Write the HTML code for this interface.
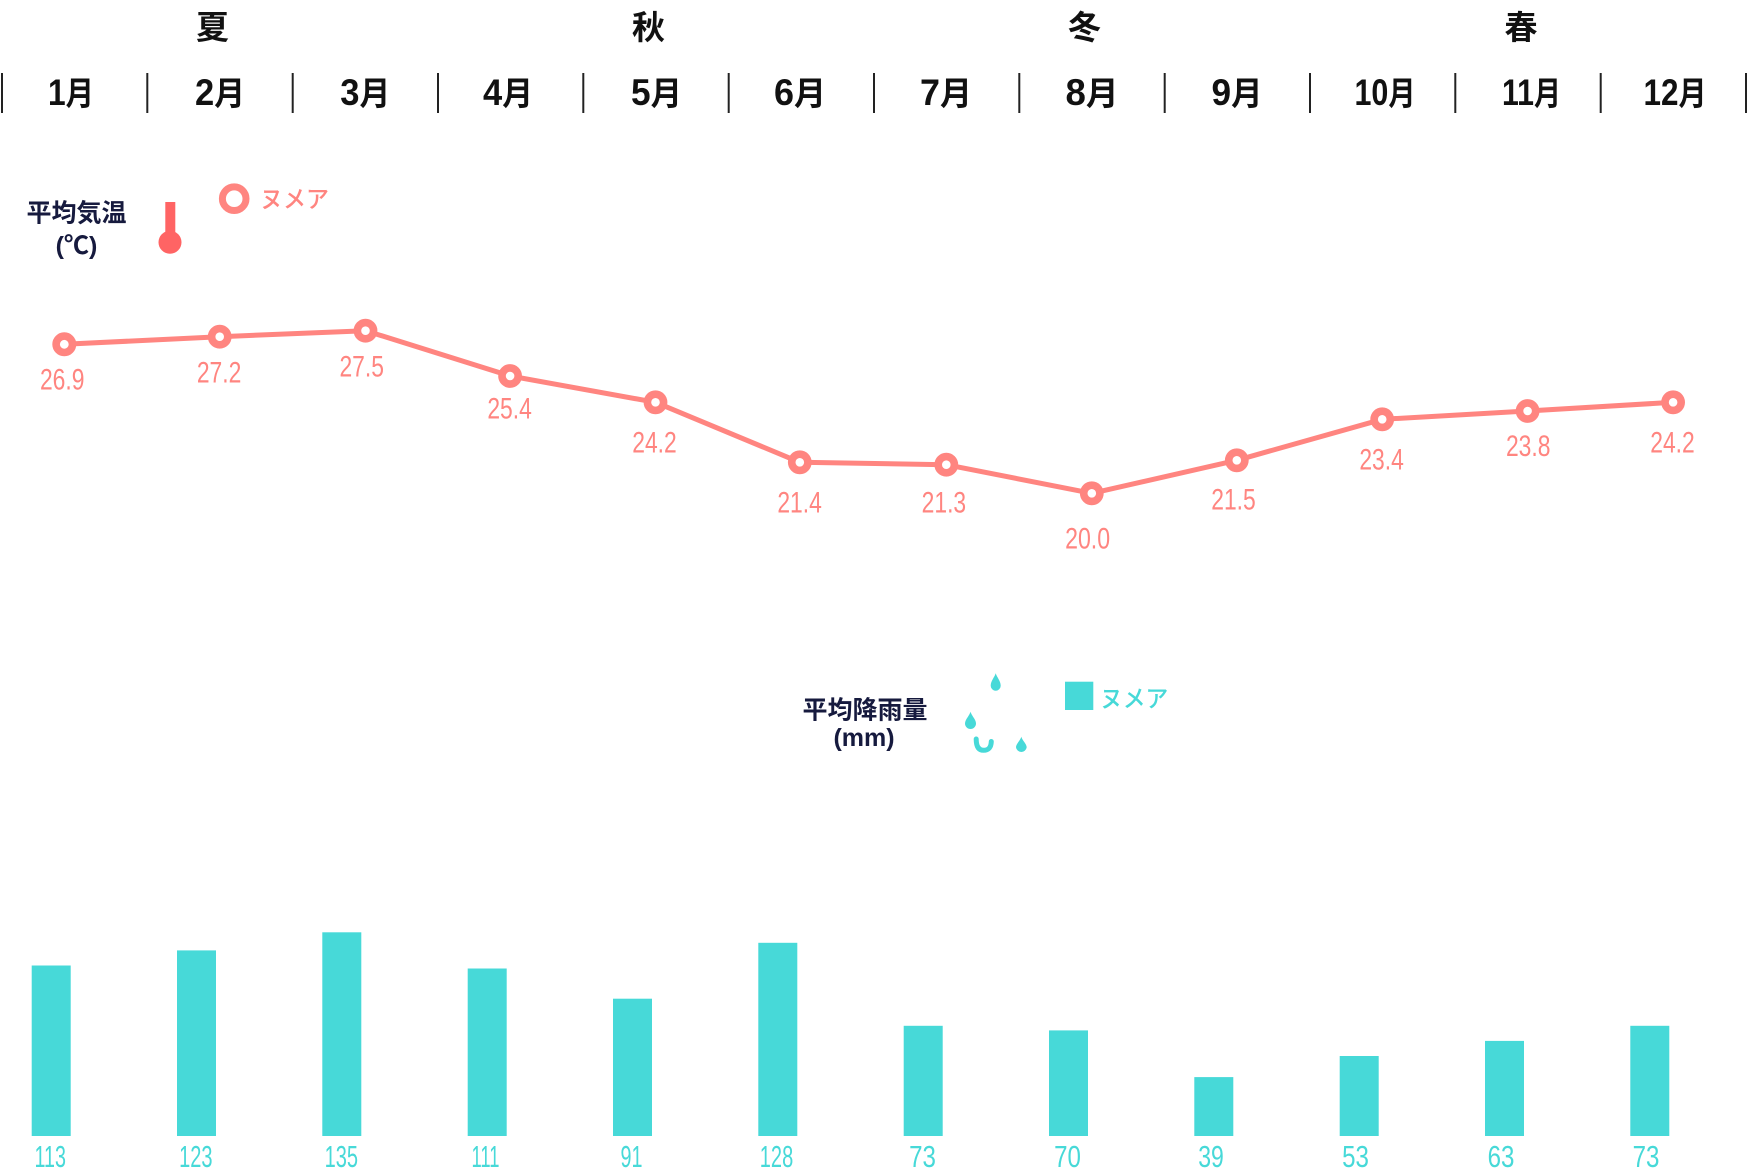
<!DOCTYPE html>
<html><head><meta charset="utf-8">
<style>
html,body{margin:0;padding:0;background:#fff;}
svg{display:block;}
.mon{font-family:"Liberation Sans","Noto Sans CJK JP",sans-serif;font-weight:bold;fill:#111;}
.sea{font-family:"Noto Sans CJK JP","Liberation Sans",sans-serif;font-weight:bold;fill:#111;font-size:33px;}
.lg{font-family:"Liberation Sans","Noto Sans CJK JP",sans-serif;font-weight:bold;fill:#161a3e;font-size:25px;}
.tv{font-family:"Liberation Sans",sans-serif;fill:#ff8580;font-size:29.5px;}
.rv{font-family:"Liberation Sans",sans-serif;fill:#47d9d8;font-size:30.5px;}
.kt{font-family:"Noto Sans CJK JP",sans-serif;font-weight:500;font-size:24px;}
</style></head>
<body>
<svg width="1748" height="1170" viewBox="0 0 1748 1170" xmlns="http://www.w3.org/2000/svg">
<rect width="1748" height="1170" fill="#fff"/>
<!-- seasons -->
<text class="sea" x="212.5" y="39" text-anchor="middle">夏</text>
<text class="sea" x="648.5" y="39" text-anchor="middle">秋</text>
<text class="sea" x="1084.5" y="39" text-anchor="middle">冬</text>
<text class="sea" x="1521" y="39" text-anchor="middle">春</text>
<!-- ticks -->
<g stroke="#222" stroke-width="2">
<line x1="2" y1="73" x2="2" y2="113"/>
<line x1="147.3" y1="73" x2="147.3" y2="113"/>
<line x1="292.7" y1="73" x2="292.7" y2="113"/>
<line x1="438" y1="73" x2="438" y2="113"/>
<line x1="583.3" y1="73" x2="583.3" y2="113"/>
<line x1="728.7" y1="73" x2="728.7" y2="113"/>
<line x1="874" y1="73" x2="874" y2="113"/>
<line x1="1019.3" y1="73" x2="1019.3" y2="113"/>
<line x1="1164.7" y1="73" x2="1164.7" y2="113"/>
<line x1="1310" y1="73" x2="1310" y2="113"/>
<line x1="1455.3" y1="73" x2="1455.3" y2="113"/>
<line x1="1600.7" y1="73" x2="1600.7" y2="113"/>
<line x1="1746" y1="73" x2="1746" y2="113"/>
</g>
<!-- months -->
<g class="mon" font-size="33">
<text x="71" y="105" text-anchor="middle" textLength="46" lengthAdjust="spacingAndGlyphs"><tspan font-size="37">1</tspan>月</text>
<text x="220" y="105" text-anchor="middle" textLength="50" lengthAdjust="spacingAndGlyphs"><tspan font-size="37">2</tspan>月</text>
<text x="365.3" y="105" text-anchor="middle" textLength="50" lengthAdjust="spacingAndGlyphs"><tspan font-size="37">3</tspan>月</text>
<text x="508" y="105" text-anchor="middle" textLength="50" lengthAdjust="spacingAndGlyphs"><tspan font-size="37">4</tspan>月</text>
<text x="656.5" y="105" text-anchor="middle" textLength="51" lengthAdjust="spacingAndGlyphs"><tspan font-size="37">5</tspan>月</text>
<text x="800" y="105" text-anchor="middle" textLength="52" lengthAdjust="spacingAndGlyphs"><tspan font-size="37">6</tspan>月</text>
<text x="946" y="105" text-anchor="middle" textLength="52" lengthAdjust="spacingAndGlyphs"><tspan font-size="37">7</tspan>月</text>
<text x="1092" y="105" text-anchor="middle" textLength="53" lengthAdjust="spacingAndGlyphs"><tspan font-size="37">8</tspan>月</text>
<text x="1237" y="105" text-anchor="middle" textLength="51" lengthAdjust="spacingAndGlyphs"><tspan font-size="37">9</tspan>月</text>
<text x="1385" y="105" text-anchor="middle" textLength="61" lengthAdjust="spacingAndGlyphs"><tspan font-size="37">10</tspan>月</text>
<text x="1531.5" y="105" text-anchor="middle" textLength="59" lengthAdjust="spacingAndGlyphs"><tspan font-size="37">11</tspan>月</text>
<text x="1675" y="105" text-anchor="middle" textLength="63" lengthAdjust="spacingAndGlyphs"><tspan font-size="37">12</tspan>月</text>
</g>
<!-- temperature legend -->
<text class="lg" x="76.5" y="221.5" text-anchor="middle">平均気温</text>
<text class="lg" x="76.5" y="254" text-anchor="middle">(℃)</text>
<rect x="165.3" y="202" width="10" height="36" fill="#ff6464"/>
<circle cx="170" cy="242.3" r="11.5" fill="#ff6464"/>
<circle cx="234.2" cy="198.7" r="11.8" fill="#fff" stroke="#ff8580" stroke-width="7"/>
<text class="kt" x="260" y="207.5" fill="#ff8580" textLength="69" lengthAdjust="spacingAndGlyphs">ヌメア</text>
<!-- temperature line -->
<polyline fill="none" stroke="#ff8580" stroke-width="5" stroke-linejoin="round"
 points="64.3,344.3 219.7,336.7 365.5,330.7 510.1,376 655.5,402.3 799.8,462.3 946.3,464.7 1091.8,493.3 1236.8,460.3 1382.2,419.3 1527.6,411 1673.1,402.3"/>
<g fill="#fff" stroke="#ff8580" stroke-width="7.6">
<circle cx="64.3" cy="344.3" r="8.2"/>
<circle cx="219.7" cy="336.7" r="8.1"/>
<circle cx="365.5" cy="330.7" r="8.1"/>
<circle cx="510.1" cy="376" r="8.1"/>
<circle cx="655.5" cy="402.3" r="8.1"/>
<circle cx="799.8" cy="462.3" r="8.1"/>
<circle cx="946.3" cy="464.7" r="8.1"/>
<circle cx="1091.8" cy="493.3" r="8.1"/>
<circle cx="1236.8" cy="460.3" r="8.1"/>
<circle cx="1382.2" cy="419.3" r="8.1"/>
<circle cx="1527.6" cy="411" r="8.1"/>
<circle cx="1673.1" cy="402.3" r="8.1"/>
</g>
<g class="tv" text-anchor="middle">
<text x="62.2" y="389.3" textLength="44.5" lengthAdjust="spacingAndGlyphs">26.9</text>
<text x="219.1" y="382.7" textLength="44.5" lengthAdjust="spacingAndGlyphs">27.2</text>
<text x="361.7" y="376.7" textLength="44.5" lengthAdjust="spacingAndGlyphs">27.5</text>
<text x="509.6" y="418.3" textLength="44.5" lengthAdjust="spacingAndGlyphs">25.4</text>
<text x="654.5" y="452.3" textLength="44.5" lengthAdjust="spacingAndGlyphs">24.2</text>
<text x="799.6" y="512.3" textLength="44.5" lengthAdjust="spacingAndGlyphs">21.4</text>
<text x="943.9" y="512.3" textLength="44.5" lengthAdjust="spacingAndGlyphs">21.3</text>
<text x="1087.6" y="548.3" textLength="45" lengthAdjust="spacingAndGlyphs">20.0</text>
<text x="1233.5" y="509.3" textLength="44.5" lengthAdjust="spacingAndGlyphs">21.5</text>
<text x="1381.6" y="469.3" textLength="44.5" lengthAdjust="spacingAndGlyphs">23.4</text>
<text x="1528.2" y="456" textLength="44.5" lengthAdjust="spacingAndGlyphs">23.8</text>
<text x="1672.5" y="452.7" textLength="44.5" lengthAdjust="spacingAndGlyphs">24.2</text>
</g>
<!-- rain legend -->
<text class="lg" x="865" y="718.5" text-anchor="middle" font-size="25.5">平均降雨量</text>
<text class="lg" x="864" y="746" text-anchor="middle">(mm)</text>
<g fill="#47d9d8">
<path d="M995.7,673.3 C996.7,677 1000.7,681 1000.7,685.7 A5,5 0 0 1 990.7,685.7 C990.7,681 994.7,677 995.7,673.3 Z"/>
<path d="M970.5,711.7 C971.5,715.5 976,719.5 976,723.5 A5.5,5.5 0 0 1 965,723.5 C965,719.5 969.5,715.5 970.5,711.7 Z"/>
<path d="M1021.3,736.7 C1022.3,740.3 1026.7,744 1026.7,747.3 A5.4,5.4 0 0 1 1016,747.3 C1016,744 1020.3,740.3 1021.3,736.7 Z"/>
</g>
<path d="M976.2,739 Q976.2,750.3 983.6,750.3 Q991,750.3 991.3,741.5" fill="none" stroke="#47d9d8" stroke-width="5" stroke-linecap="round"/>
<rect x="1065" y="681.7" width="28.3" height="28.3" fill="#47d9d8"/>
<text class="kt" x="1100" y="707" fill="#47d9d8" textLength="68.3" lengthAdjust="spacingAndGlyphs">ヌメア</text>
<!-- bars -->
<g fill="#47d9d8">
<rect x="31.7" y="965.5" width="39" height="170.5"/>
<rect x="177" y="950.4" width="39" height="185.6"/>
<rect x="322.3" y="932.3" width="39" height="203.7"/>
<rect x="467.7" y="968.5" width="39" height="167.5"/>
<rect x="613" y="998.7" width="39" height="137.3"/>
<rect x="758.3" y="942.8" width="39" height="193.2"/>
<rect x="903.7" y="1025.8" width="39" height="110.2"/>
<rect x="1049" y="1030.4" width="39" height="105.6"/>
<rect x="1194.3" y="1077.1" width="39" height="58.9"/>
<rect x="1339.7" y="1056" width="39" height="80"/>
<rect x="1485" y="1040.9" width="39" height="95.1"/>
<rect x="1630.3" y="1025.8" width="39" height="110.2"/>
</g>
<g class="rv" text-anchor="middle">
<text x="50.2" y="1167" textLength="31.4" lengthAdjust="spacingAndGlyphs">113</text>
<text x="195.8" y="1167" textLength="33.4" lengthAdjust="spacingAndGlyphs">123</text>
<text x="341.3" y="1167" textLength="33.4" lengthAdjust="spacingAndGlyphs">135</text>
<text x="485.5" y="1167" textLength="28" lengthAdjust="spacingAndGlyphs">111</text>
<text x="631.5" y="1167" textLength="22" lengthAdjust="spacingAndGlyphs">91</text>
<text x="776.5" y="1167" textLength="33.4" lengthAdjust="spacingAndGlyphs">128</text>
<text x="922.5" y="1167" textLength="26.8" lengthAdjust="spacingAndGlyphs">73</text>
<text x="1067.5" y="1167" textLength="26.8" lengthAdjust="spacingAndGlyphs">70</text>
<text x="1211" y="1167" textLength="25.6" lengthAdjust="spacingAndGlyphs">39</text>
<text x="1355.5" y="1167" textLength="26.8" lengthAdjust="spacingAndGlyphs">53</text>
<text x="1501" y="1167" textLength="26.8" lengthAdjust="spacingAndGlyphs">63</text>
<text x="1646" y="1167" textLength="26.8" lengthAdjust="spacingAndGlyphs">73</text>
</g>
</svg>
</body></html>
